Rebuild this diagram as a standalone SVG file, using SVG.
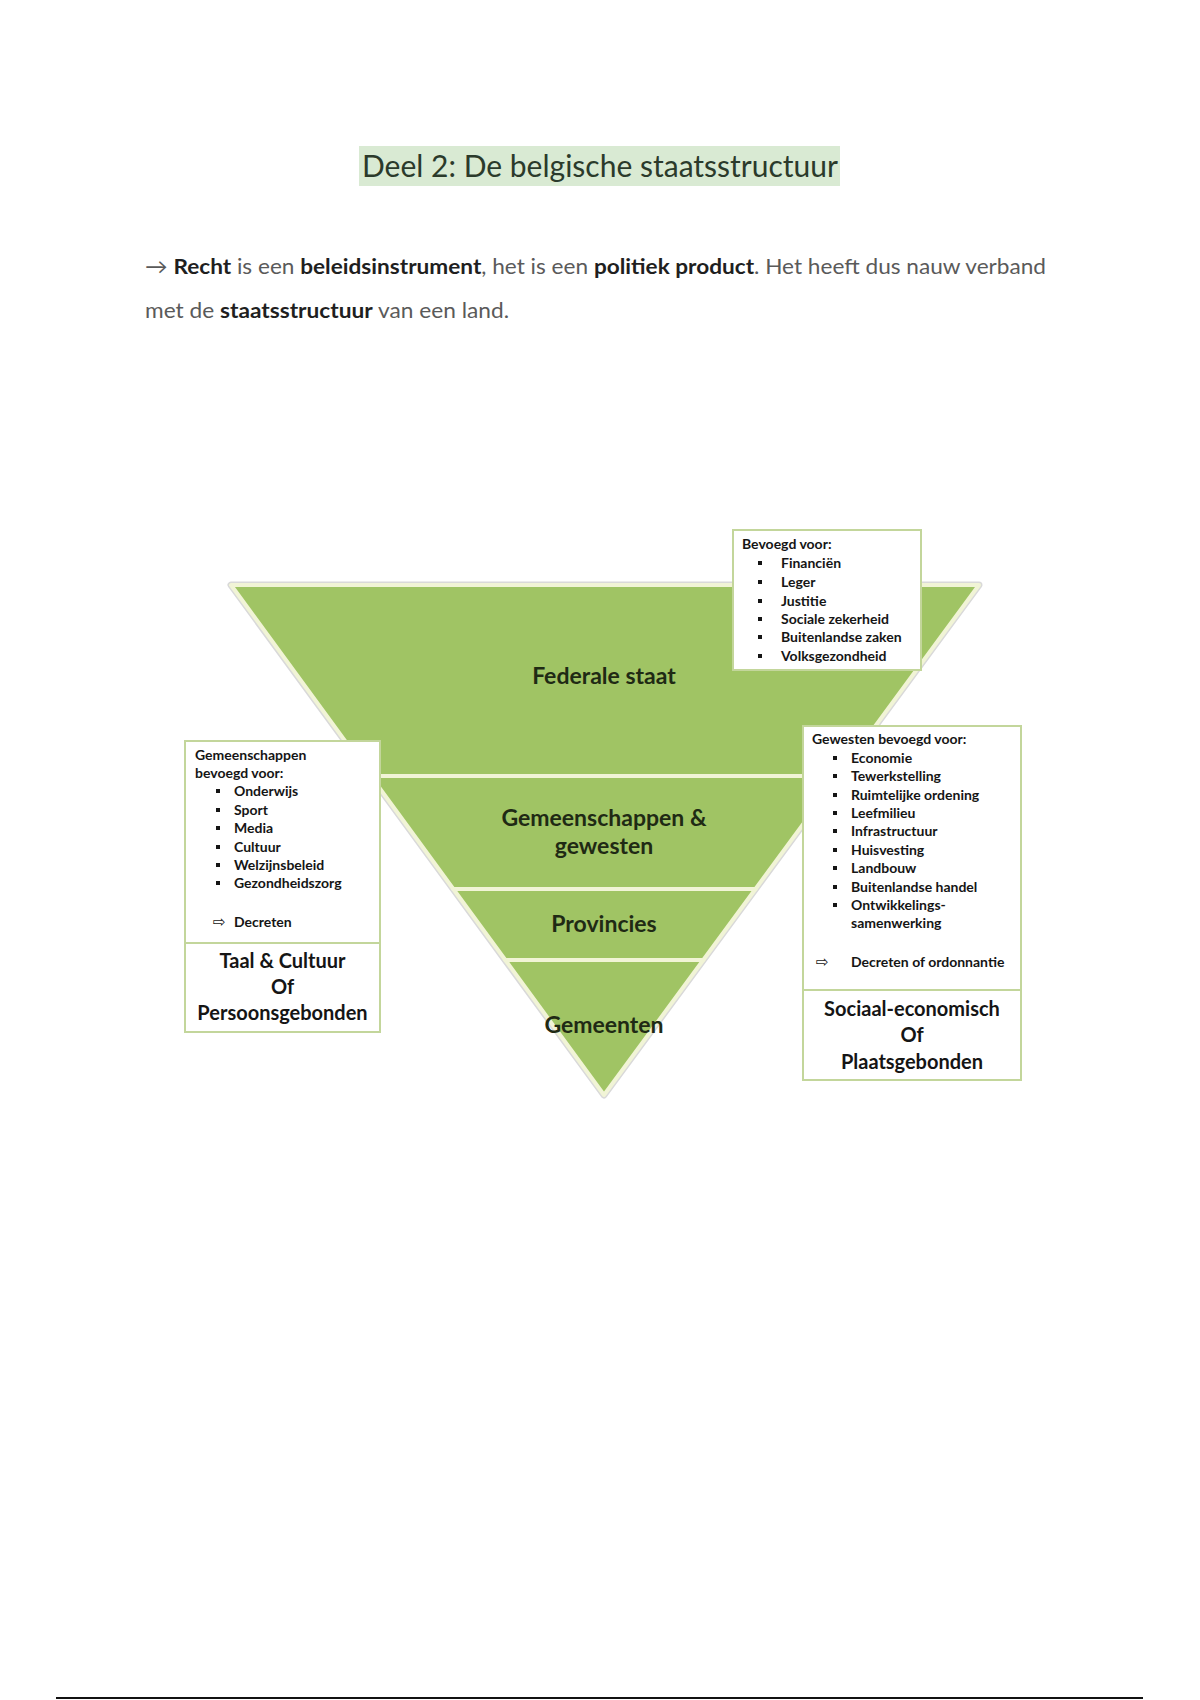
<svg xmlns="http://www.w3.org/2000/svg" width="1200" height="1700" viewBox="0 0 1200 1700">
<style>
.title{font-family:Lato,"Noto Sans",sans-serif;font-size:30px;fill:#2b3a2b}
.body{font-family:Lato,"Noto Sans",sans-serif;font-size:21px;fill:#5a5a5a}
.b{font-weight:bold;fill:#1f1f1f}
.band{fill:#a0c464;stroke:#f1f4d6;stroke-width:4;stroke-linejoin:round}
.lbl{font-family:Lato,"Noto Sans",sans-serif;font-weight:bold;font-size:23px;fill:#1f2a14;text-anchor:middle}
.box{fill:#ffffff;stroke:#c3d69b;stroke-width:2}
.sm{font-family:Lato,"Noto Sans",sans-serif;font-weight:bold;font-size:14px;fill:#151515}
.big{font-family:Lato,"Noto Sans",sans-serif;font-weight:bold;font-size:20px;fill:#151515;text-anchor:middle}
.arr{font-family:"DejaVu Sans",sans-serif;font-size:15px;fill:#151515}
.bul{fill:#151515}
</style>
<rect width="1200" height="1700" fill="#ffffff"/>
<g id="title">
<rect x="359" y="146" width="481" height="40" fill="#d9ead3"/>
<text class="title" x="362" y="177" textLength="476" lengthAdjust="spacingAndGlyphs">Deel 2: De belgische staatsstructuur</text>
</g>
<g id="intro">
<text class="body" x="145" y="274" textLength="901" lengthAdjust="spacingAndGlyphs">→ <tspan class="b">Recht</tspan> is een <tspan class="b">beleidsinstrument</tspan>, het is een <tspan class="b">politiek product</tspan>. Het heeft dus nauw verband</text>
<text class="body" x="145" y="318" textLength="364" lengthAdjust="spacingAndGlyphs">met de <tspan class="b">staatsstructuur</tspan> van een land.</text>
</g>
<g id="pyramid-shadow">
<polygon points="231,585 979,585 604,1095" fill="none" stroke="#d9d9d9" stroke-width="7" stroke-linejoin="round"/>
</g>
<g id="federale-staat">
<polygon class="band" points="231,585 979,585 838.6,776 370.7,776"/>
<text class="lbl" x="604" y="684">Federale staat</text>
</g>
<g id="gemeenschappen-gewesten">
<polygon class="band" points="370.7,776 838.6,776 755.5,889 453.3,889"/>
<text class="lbl" x="604" y="826">Gemeenschappen &amp;</text>
<text class="lbl" x="604" y="854">gewesten</text>
</g>
<g id="provincies">
<polygon class="band" points="453.3,889 755.5,889 703.3,960 505.3,960"/>
<text class="lbl" x="604" y="932">Provincies</text>
</g>
<g id="gemeenten">
<polygon class="band" points="505.3,960 703.3,960 604,1095"/>
<text class="lbl" x="604" y="1033">Gemeenten</text>
</g>
<g id="box-federaal">
<rect class="box" x="733" y="530" width="188" height="140"/>
<text class="sm" x="742" y="549">Bevoegd voor:</text>
<rect class="bul" x="758" y="561" width="4" height="4"/><text class="sm" x="781" y="568">Financiën</text>
<rect class="bul" x="758" y="580" width="4" height="4"/><text class="sm" x="781" y="587">Leger</text>
<rect class="bul" x="758" y="599" width="4" height="4"/><text class="sm" x="781" y="606">Justitie</text>
<rect class="bul" x="758" y="617" width="4" height="4"/><text class="sm" x="781" y="624">Sociale zekerheid</text>
<rect class="bul" x="758" y="635" width="4" height="4"/><text class="sm" x="781" y="642">Buitenlandse zaken</text>
<rect class="bul" x="758" y="654" width="4" height="4"/><text class="sm" x="781" y="661">Volksgezondheid</text>
</g>
<g id="box-gemeenschappen">
<rect class="box" x="185" y="741" width="195" height="291"/>
<line x1="185" y1="943" x2="380" y2="943" stroke="#c3d69b" stroke-width="2"/>
<text class="sm" x="195" y="760">Gemeenschappen</text>
<text class="sm" x="195" y="778">bevoegd voor:</text>
<rect class="bul" x="216" y="789" width="4" height="4"/><text class="sm" x="234" y="796">Onderwijs</text>
<rect class="bul" x="216" y="808" width="4" height="4"/><text class="sm" x="234" y="815">Sport</text>
<rect class="bul" x="216" y="826" width="4" height="4"/><text class="sm" x="234" y="833">Media</text>
<rect class="bul" x="216" y="845" width="4" height="4"/><text class="sm" x="234" y="852">Cultuur</text>
<rect class="bul" x="216" y="863" width="4" height="4"/><text class="sm" x="234" y="870">Welzijnsbeleid</text>
<rect class="bul" x="216" y="881" width="4" height="4"/><text class="sm" x="234" y="888">Gezondheidszorg</text>
<text class="arr" x="213" y="927">⇨</text><text class="sm" x="234" y="927">Decreten</text>
<text class="big" x="282.5" y="968">Taal &amp; Cultuur</text>
<text class="big" x="282.5" y="994">Of</text>
<text class="big" x="282.5" y="1020">Persoonsgebonden</text>
</g>
<g id="box-gewesten">
<rect class="box" x="803" y="726" width="218" height="354"/>
<line x1="803" y1="990" x2="1021" y2="990" stroke="#c3d69b" stroke-width="2"/>
<text class="sm" x="812" y="744">Gewesten bevoegd voor:</text>
<rect class="bul" x="833" y="756" width="4" height="4"/><text class="sm" x="851" y="763">Economie</text>
<rect class="bul" x="833" y="774" width="4" height="4"/><text class="sm" x="851" y="781">Tewerkstelling</text>
<rect class="bul" x="833" y="793" width="4" height="4"/><text class="sm" x="851" y="800">Ruimtelijke ordening</text>
<rect class="bul" x="833" y="811" width="4" height="4"/><text class="sm" x="851" y="818">Leefmilieu</text>
<rect class="bul" x="833" y="829" width="4" height="4"/><text class="sm" x="851" y="836">Infrastructuur</text>
<rect class="bul" x="833" y="848" width="4" height="4"/><text class="sm" x="851" y="855">Huisvesting</text>
<rect class="bul" x="833" y="866" width="4" height="4"/><text class="sm" x="851" y="873">Landbouw</text>
<rect class="bul" x="833" y="885" width="4" height="4"/><text class="sm" x="851" y="892">Buitenlandse handel</text>
<rect class="bul" x="833" y="903" width="4" height="4"/><text class="sm" x="851" y="910">Ontwikkelings-</text>
<text class="sm" x="851" y="928">samenwerking</text>
<text class="arr" x="816" y="967">⇨</text><text class="sm" x="851" y="967">Decreten of ordonnantie</text>
<text class="big" x="912" y="1016">Sociaal-economisch</text>
<text class="big" x="912" y="1042">Of</text>
<text class="big" x="912" y="1069">Plaatsgebonden</text>
</g>
<g id="connectors"></g>
<g id="footer-line">
<line x1="56" y1="1698" x2="1143" y2="1698" stroke="#111111" stroke-width="2"/>
</g>
</svg>
